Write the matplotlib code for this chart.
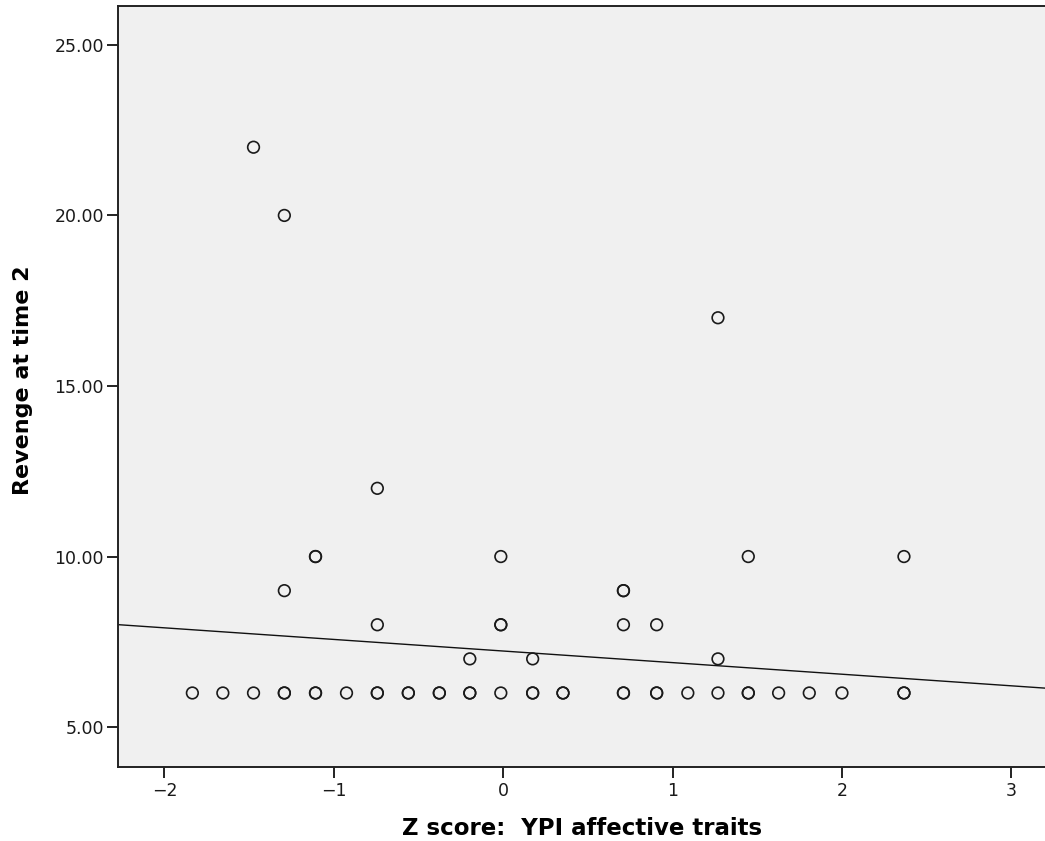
import matplotlib
matplotlib.use("Agg")
import matplotlib.pyplot as plt
import numpy as np

# z-scores of YPI affective traits and revenge scores (duplicates kept as repeated entries)
zscore = [-1.835, -1.655, -1.474, -1.292, -1.292, -1.108, -1.108, -0.925,
          -0.743, -0.743, -0.560, -0.560, -0.377, -0.377, -0.197, -0.197,
          -0.014, 0.174, 0.174, 0.353, 0.353, 0.710, 0.710, 0.906, 0.906,
          1.090, 1.268, 1.447, 1.447, 1.626, 1.807, 2.000, 2.366, 2.366,
          -0.197, 0.174, 1.268,
          -0.743, -0.014, -0.014, 0.710, 0.906,
          -1.292, 0.710, 0.710,
          -1.108, -1.108, -0.014, 1.447, 2.366,
          -0.743, 1.268, -1.292, -1.474]
revenge = [6, 6, 6, 6, 6, 6, 6, 6,
           6, 6, 6, 6, 6, 6, 6, 6,
           6, 6, 6, 6, 6, 6, 6, 6, 6,
           6, 6, 6, 6, 6, 6, 6, 6, 6,
           7, 7, 7,
           8, 8, 8, 8, 8,
           9, 9, 9,
           10, 10, 10, 10, 10,
           12, 17, 20, 22]

# fit line
fit_intercept = 7.23
fit_slope = -0.34

xlim = (-2.274, 3.211)
ylim = (3.83, 26.14)
yticks = [5, 10, 15, 20, 25]
xticks = [-2, -1, 0, 1, 2, 3]

fig = plt.figure(figsize=(10.45, 8.41), dpi=100)
ax = fig.add_axes([118/1045, 74/841, 1 - 118/1045 + 0.002, 761/841])
ax.set_facecolor("#f0f0f0")

ax.scatter(zscore, revenge, s=70, facecolors="none", edgecolors="#1a1a1a",
           linewidths=1.2, zorder=3)

xx = np.array(xlim)
ax.plot(xx, fit_intercept + fit_slope*xx, color="#111111", lw=1.0, zorder=2)

ax.set_xlim(*xlim)
ax.set_ylim(*ylim)
ax.set_yticks(yticks)
ax.set_yticklabels(["%.2f" % v for v in yticks])
ax.set_xticks(xticks)
ax.set_xticklabels(["\u2212%d" % -v if v < 0 else "%d" % v for v in xticks])

for s in ax.spines.values():
    s.set_linewidth(1.4)
    s.set_color("#222222")
ax.tick_params(axis="both", direction="out", length=8, width=1.4,
               color="#222222", labelsize=12.5, labelcolor="#1a1a1a")
ax.tick_params(axis="y", pad=2)
ax.tick_params(axis="x", pad=3)

ax.set_xlabel("Z score:  YPI affective traits", fontsize=16.5, fontweight="bold",
              labelpad=12)
ax.set_ylabel("Revenge at time 2", fontsize=16, fontweight="bold")
ax.yaxis.set_label_coords(-0.092, 0.508)

fig.savefig("out.png", dpi=100, facecolor="white")
